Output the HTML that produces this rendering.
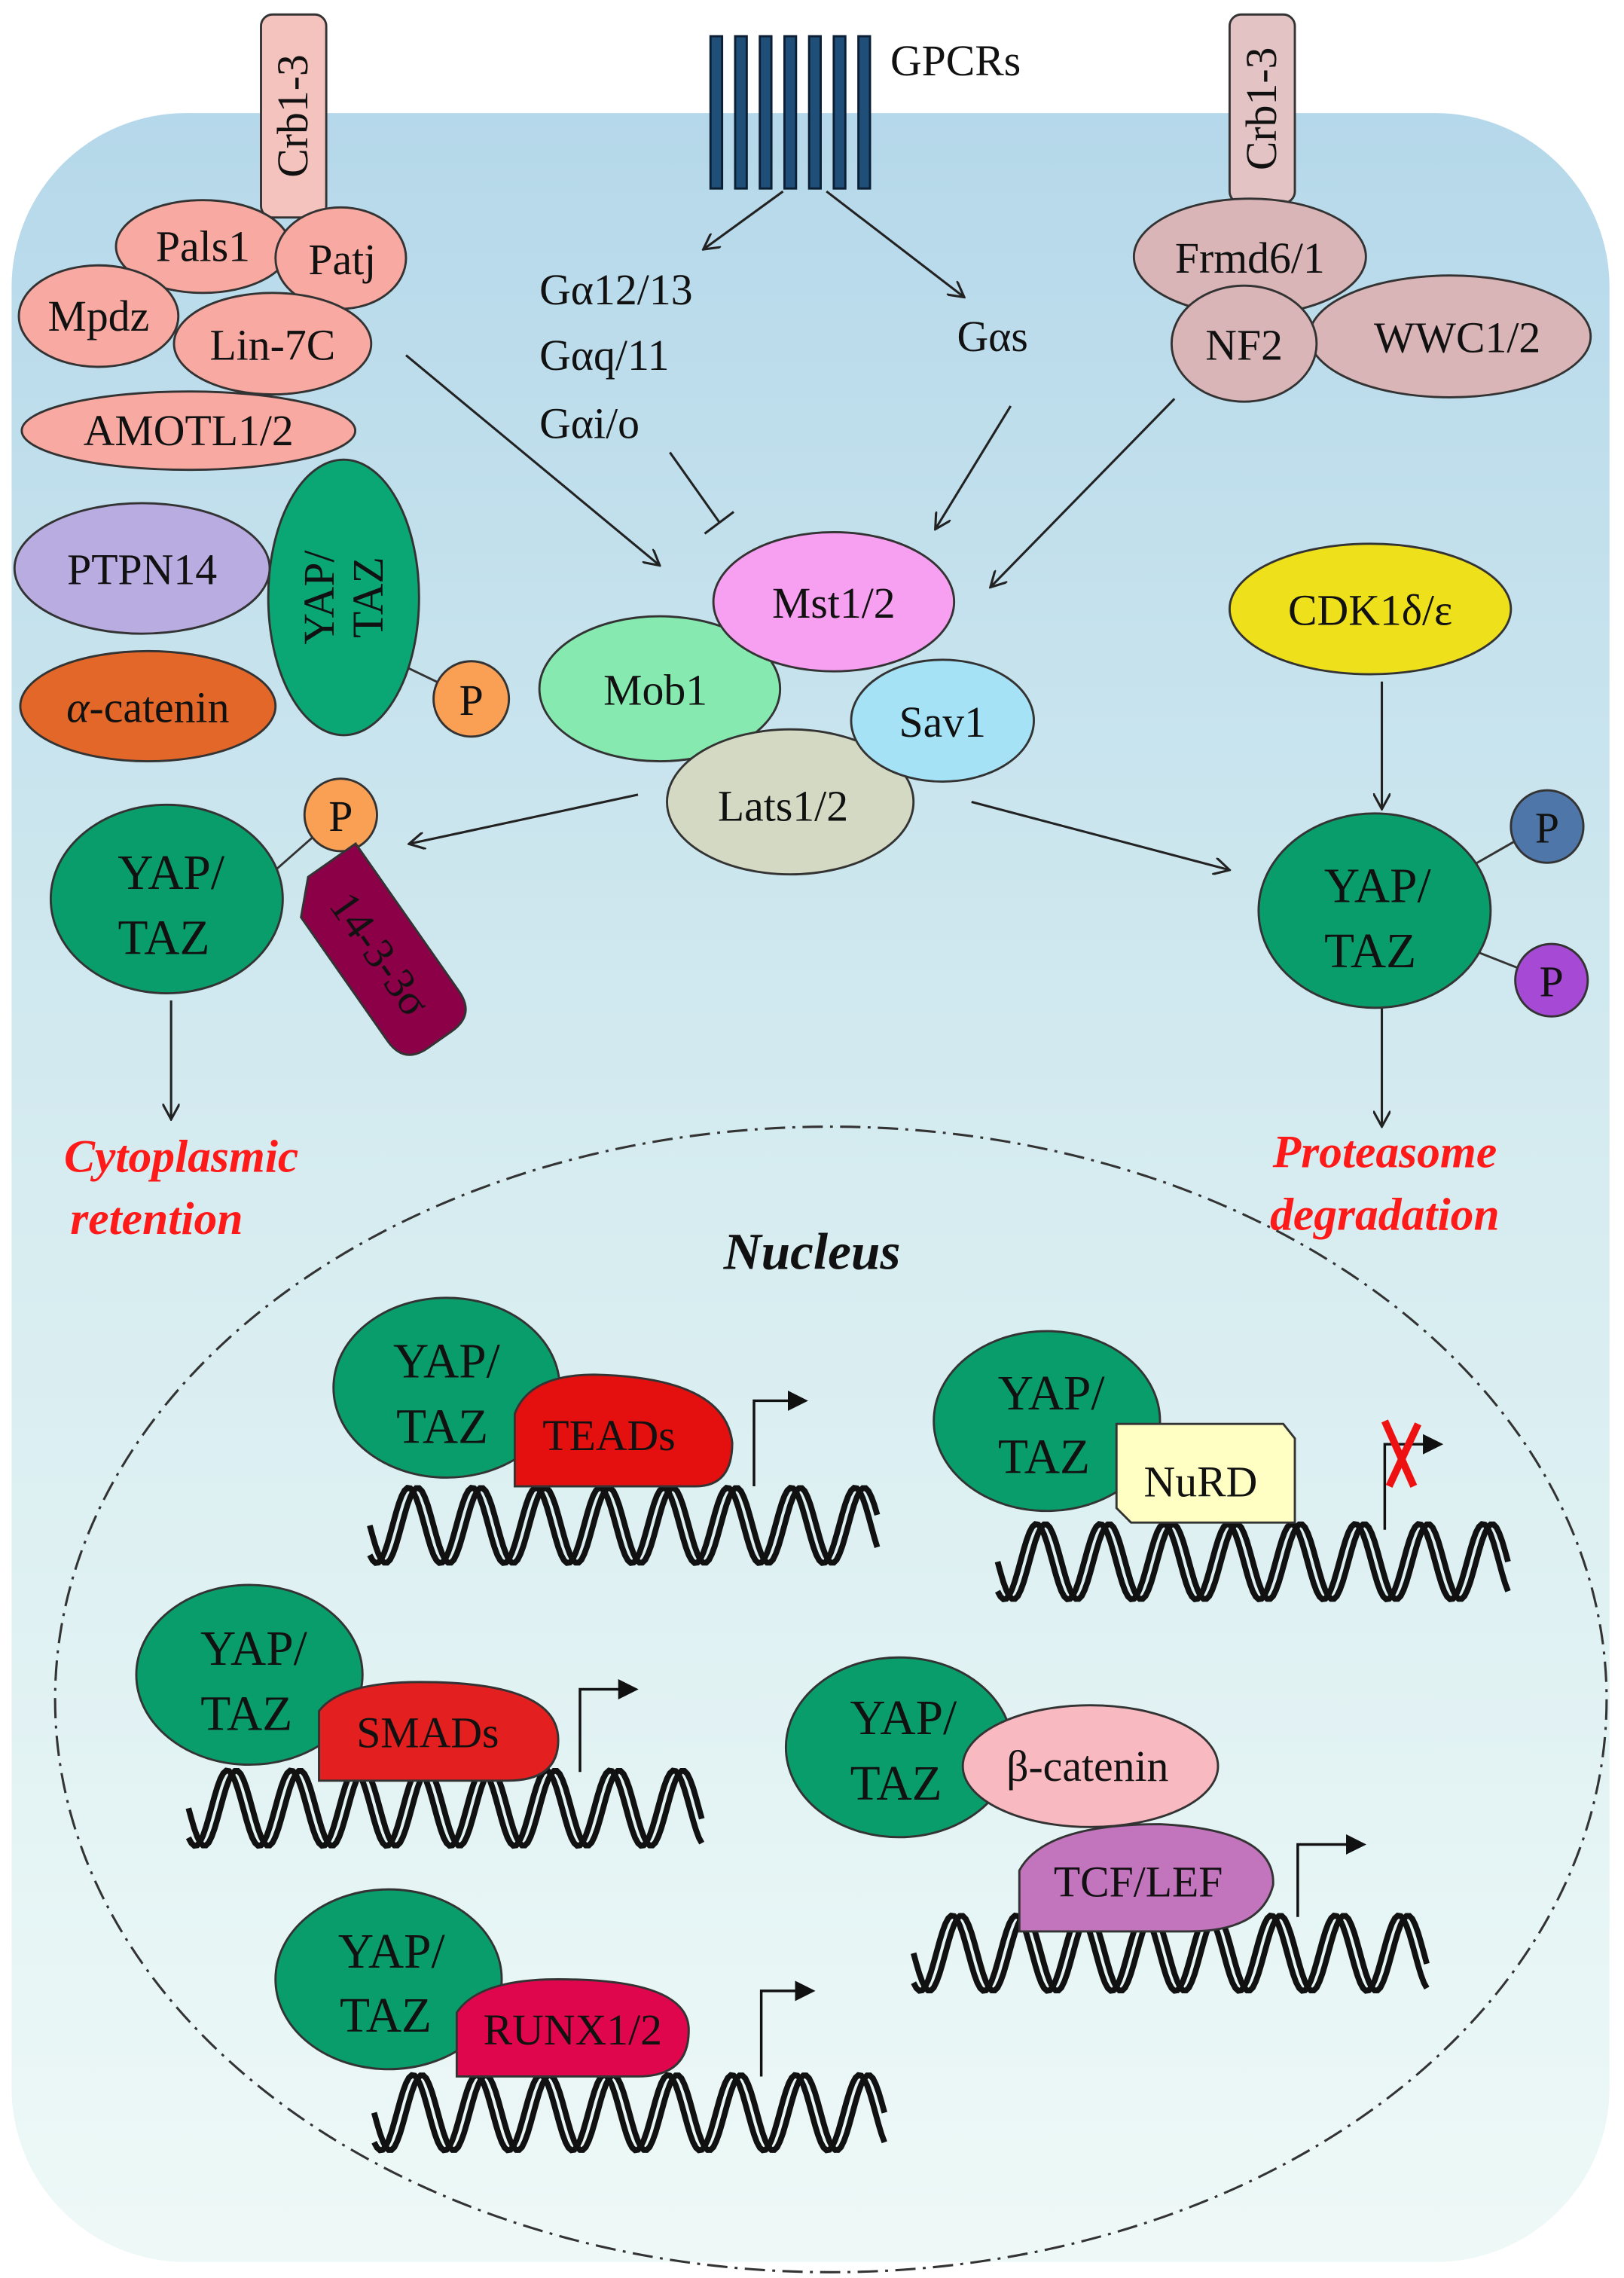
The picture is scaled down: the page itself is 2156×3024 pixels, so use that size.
<!DOCTYPE html>
<html><head><meta charset="utf-8">
<style>
html,body{margin:0;padding:0;background:#fff;}
svg{display:block;}
text{font-family:"Liberation Serif",serif;fill:#111;}
</style></head>
<body>
<svg id="s" width="2156" height="3024" viewBox="0 0 1120 1571" preserveAspectRatio="none" xmlns="http://www.w3.org/2000/svg">
<defs>
<linearGradient id="cell" x1="0" y1="0" x2="0" y2="1">
<stop offset="0" stop-color="#b5d8ea"/><stop offset="0.5" stop-color="#d6ecf0"/><stop offset="1" stop-color="#eef9f7"/>
</linearGradient>
<marker id="ar" viewBox="0 0 12 12" refX="11" refY="6" markerWidth="12" markerHeight="12" markerUnits="userSpaceOnUse" orient="auto">
<path d="M0,0 L11,6 L0,12" fill="none" stroke="#222" stroke-width="1.6"/></marker>
<marker id="af" viewBox="0 0 12 12" refX="10" refY="6" markerWidth="14" markerHeight="14" markerUnits="userSpaceOnUse" orient="auto">
<path d="M0,0 L12,6 L0,12 z" fill="#111"/></marker>
</defs>
<rect x="8" y="78" width="1102" height="1482" rx="120" fill="url(#cell)"/>

<g fill="#1f4e79" stroke="#0b1e33" stroke-width="1.5">
<rect x="490" y="25" width="8" height="105"/><rect x="507" y="25" width="8" height="105"/><rect x="524" y="25" width="8" height="105"/><rect x="541" y="25" width="8" height="105"/><rect x="558" y="25" width="8" height="105"/><rect x="575" y="25" width="8" height="105"/><rect x="592" y="25" width="8" height="105"/>
</g>
<text x="614" y="52" font-size="30">GPCRs</text>

<rect x="180" y="10" width="45" height="140" rx="8" fill="#f5c3be" stroke="#333" stroke-width="1.5"/>
<text transform="translate(212,80) rotate(-90)" text-anchor="middle" font-size="30">Crb1-3</text>
<g stroke="#333" stroke-width="1.5" fill="#f8aaa2">
<ellipse cx="140" cy="170" rx="60" ry="32"/>
<ellipse cx="235" cy="178" rx="45" ry="35"/>
<ellipse cx="68" cy="218" rx="55" ry="35"/>
<ellipse cx="188" cy="237" rx="68" ry="35"/>
<ellipse cx="130" cy="297" rx="115" ry="27"/>
</g>
<text x="140" y="180" font-size="30" text-anchor="middle">Pals1</text>
<text x="236" y="189" font-size="30" text-anchor="middle">Patj</text>
<text x="68" y="228" font-size="30" text-anchor="middle">Mpdz</text>
<text x="188" y="248" font-size="30" text-anchor="middle">Lin-7C</text>
<text x="130" y="307" font-size="30" text-anchor="middle">AMOTL1/2</text>
<ellipse cx="98" cy="392" rx="88" ry="45" fill="#b9ace0" stroke="#333" stroke-width="1.5"/>
<text x="98" y="403" font-size="30" text-anchor="middle">PTPN14</text>
<ellipse cx="102" cy="487" rx="88" ry="38" fill="#e4672a" stroke="#333" stroke-width="1.5"/>
<text x="102" y="498" font-size="30" text-anchor="middle"><tspan font-style="italic">α</tspan>-catenin</text>
<line x1="280" y1="460" x2="305" y2="472" stroke="#333" stroke-width="1.5"/>
<ellipse cx="237" cy="412" rx="52" ry="95" fill="#0aa673" stroke="#333" stroke-width="1.5"/>
<text transform="translate(230,412) rotate(-90)" text-anchor="middle" font-size="30"><tspan x="0" dy="0">YAP/</tspan><tspan x="0" dy="34">TAZ</tspan></text>
<circle cx="325" cy="482" r="26" fill="#f9a055" stroke="#333" stroke-width="1.5"/>
<text x="325" y="493" font-size="30" text-anchor="middle">P</text>

<rect x="848" y="10" width="45" height="130" rx="8" fill="#e3c3c3" stroke="#333" stroke-width="1.5"/>
<text transform="translate(880,75) rotate(-90)" text-anchor="middle" font-size="30">Crb1-3</text>
<g stroke="#333" stroke-width="1.5" fill="#d9b5b7">
<ellipse cx="1000" cy="232" rx="97" ry="42"/>
<ellipse cx="862" cy="177" rx="80" ry="40"/>
<ellipse cx="858" cy="237" rx="50" ry="40"/>
</g>
<text x="862" y="188" font-size="30" text-anchor="middle">Frmd6/1</text>
<text x="858" y="248" font-size="30" text-anchor="middle">NF2</text>
<text x="1005" y="243" font-size="30" text-anchor="middle">WWC1/2</text>

<text x="372" y="210" font-size="30">Gα12/13</text>
<text x="372" y="255" font-size="30">Gαq/11</text>
<text x="372" y="302" font-size="30">Gαi/o</text>
<text x="660" y="242" font-size="30">Gαs</text>

<g stroke="#222" stroke-width="1.6" fill="none">
<line x1="540" y1="132" x2="485" y2="172" marker-end="url(#ar)"/>
<line x1="570" y1="132" x2="665" y2="205" marker-end="url(#ar)"/>
<line x1="462" y1="312" x2="496" y2="360"/>
<line x1="486" y1="368" x2="506" y2="353"/>
<line x1="697" y1="280" x2="645" y2="365" marker-end="url(#ar)"/>
<line x1="810" y1="275" x2="683" y2="405" marker-end="url(#ar)"/>
<line x1="280" y1="245" x2="455" y2="390" marker-end="url(#ar)"/>
<line x1="440" y1="548" x2="282" y2="582" marker-end="url(#ar)"/>
<line x1="670" y1="553" x2="848" y2="600" marker-end="url(#ar)"/>
<line x1="953" y1="470" x2="953" y2="558" marker-end="url(#ar)"/>
<line x1="118" y1="690" x2="118" y2="772" marker-end="url(#ar)"/>
<line x1="953" y1="693" x2="953" y2="777" marker-end="url(#ar)"/>
</g>

<g stroke="#333" stroke-width="1.5">
<ellipse cx="455" cy="475" rx="83" ry="50" fill="#86eab0"/>
<ellipse cx="545" cy="553" rx="85" ry="50" fill="#d3d9c3"/>
<ellipse cx="650" cy="497" rx="63" ry="42" fill="#a5e2f5"/>
<ellipse cx="575" cy="415" rx="83" ry="48" fill="#f7a0f1"/>
</g>
<text x="575" y="426" font-size="30" text-anchor="middle">Mst1/2</text>
<text x="452" y="486" font-size="30" text-anchor="middle">Mob1</text>
<text x="650" y="508" font-size="30" text-anchor="middle">Sav1</text>
<text x="540" y="566" font-size="30" text-anchor="middle">Lats1/2</text>

<ellipse cx="945" cy="420" rx="97" ry="45" fill="#efe01c" stroke="#333" stroke-width="1.5"/>
<text x="945" y="431" font-size="30" text-anchor="middle">CDK1δ/ε</text>

<line x1="1010" y1="600" x2="1045" y2="580" stroke="#333" stroke-width="1.5"/>
<line x1="1015" y1="655" x2="1048" y2="668" stroke="#333" stroke-width="1.5"/>
<ellipse cx="948" cy="628" rx="80" ry="67" fill="#0a9d6c" stroke="#333" stroke-width="1.5"/>
<text x="950" y="622" font-size="34" text-anchor="middle">YAP/</text>
<text x="945" y="667" font-size="34" text-anchor="middle">TAZ</text>
<circle cx="1067" cy="570" r="25" fill="#4f76a8" stroke="#333" stroke-width="1.5"/>
<text x="1067" y="581" font-size="30" text-anchor="middle">P</text>
<circle cx="1070" cy="676" r="25" fill="#a64ad6" stroke="#333" stroke-width="1.5"/>
<text x="1070" y="687" font-size="30" text-anchor="middle">P</text>

<line x1="190" y1="600" x2="215" y2="578" stroke="#333" stroke-width="1.5"/>
<ellipse cx="115" cy="620" rx="80" ry="65" fill="#0a9d6c" stroke="#333" stroke-width="1.5"/>
<text x="118" y="613" font-size="34" text-anchor="middle">YAP/</text>
<text x="113" y="658" font-size="34" text-anchor="middle">TAZ</text>
<circle cx="235" cy="562" r="25" fill="#f9a055" stroke="#333" stroke-width="1.5"/>
<text x="235" y="573" font-size="30" text-anchor="middle">P</text>
<g transform="translate(262,658) rotate(55)">
<path d="M-72,-30 L52,-30 Q72,-30 72,-10 L72,10 Q72,30 52,30 L-52,30 L-72,10 z" fill="#8c0048" stroke="#333" stroke-width="1.5"/>
<text x="0" y="10" font-size="30" text-anchor="middle">14-3-3σ</text>
</g>

<g font-size="32" font-style="italic" font-weight="bold" text-anchor="middle">
<text x="125" y="808" style="fill:#ff1a1a">Cytoplasmic</text>
<text x="108" y="851" style="fill:#ff1a1a">retention</text>
<text x="955" y="805" style="fill:#ff1a1a">Proteasome</text>
<text x="955" y="848" style="fill:#ff1a1a">degradation</text>
</g>

<ellipse cx="573" cy="1172" rx="535" ry="395" fill="none" stroke="#333" stroke-width="1.6" stroke-dasharray="14,5,2,5"/>
<text x="560" y="875" font-size="36" font-style="italic" font-weight="bold" text-anchor="middle">Nucleus</text>

<g id="dna" stroke="#111" stroke-width="4" fill="none"></g>

<ellipse cx="308" cy="957" rx="78" ry="62" fill="#0a9d6c" stroke="#333" stroke-width="1.5"/>
<text x="308" y="950" font-size="34" text-anchor="middle">YAP/</text><text x="305" y="995" font-size="34" text-anchor="middle">TAZ</text>
<path d="M355,1025 L355,975 Q365,948 410,948 Q500,950 505,995 Q505,1025 480,1025 z" fill="#e3100f" stroke="#333" stroke-width="1.5"/>
<text x="420" y="1000" font-size="30" text-anchor="middle">TEADs</text>
<ellipse cx="722" cy="980" rx="78" ry="62" fill="#0a9d6c" stroke="#333" stroke-width="1.5"/>
<text x="725" y="972" font-size="34" text-anchor="middle">YAP/</text><text x="720" y="1016" font-size="34" text-anchor="middle">TAZ</text>
<path d="M770,1040 L770,982 L885,982 L893,992 L893,1050 L780,1050 z" fill="#ffffc4" stroke="#333" stroke-width="1.5"/>
<text x="828" y="1032" font-size="30" text-anchor="middle">NuRD</text>
<ellipse cx="172" cy="1155" rx="78" ry="62" fill="#0a9d6c" stroke="#333" stroke-width="1.5"/>
<text x="175" y="1148" font-size="34" text-anchor="middle">YAP/</text><text x="170" y="1193" font-size="34" text-anchor="middle">TAZ</text>
<path d="M220,1228 L220,1180 Q235,1160 290,1160 Q385,1160 385,1200 Q385,1228 350,1228 z" fill="#e3201f" stroke="#333" stroke-width="1.5"/>
<text x="295" y="1205" font-size="30" text-anchor="middle">SMADs</text>
<ellipse cx="620" cy="1205" rx="78" ry="62" fill="#0a9d6c" stroke="#333" stroke-width="1.5"/>
<text x="623" y="1196" font-size="34" text-anchor="middle">YAP/</text><text x="618" y="1241" font-size="34" text-anchor="middle">TAZ</text>
<ellipse cx="752" cy="1218" rx="88" ry="42" fill="#f9b9c0" stroke="#333" stroke-width="1.5"/>
<text x="750" y="1228" font-size="30" text-anchor="middle">β-catenin</text>
<path d="M703,1332 L703,1290 Q720,1258 800,1258 Q880,1262 878,1300 Q870,1332 820,1332 z" fill="#c274bd" stroke="#333" stroke-width="1.5"/>
<text x="785" y="1308" font-size="30" text-anchor="middle">TCF/LEF</text>
<ellipse cx="268" cy="1365" rx="78" ry="62" fill="#0a9d6c" stroke="#333" stroke-width="1.5"/>
<text x="270" y="1357" font-size="34" text-anchor="middle">YAP/</text><text x="266" y="1401" font-size="34" text-anchor="middle">TAZ</text>
<path d="M315,1432 L315,1388 Q330,1365 385,1365 Q475,1365 475,1400 Q475,1432 440,1432 z" fill="#e0064e" stroke="#333" stroke-width="1.5"/>
<text x="395" y="1410" font-size="30" text-anchor="middle">RUNX1/2</text>

<g stroke="#111" stroke-width="1.8" fill="none">
<path d="M520,1025 L520,966 L555,966" marker-end="url(#af)"/>
<path d="M955,1055 L955,996 L993,996" marker-end="url(#af)"/>
<path d="M400,1222 L400,1165 L438,1165" marker-end="url(#af)"/>
<path d="M895,1322 L895,1272 L940,1272" marker-end="url(#af)"/>
<path d="M525,1432 L525,1373 L560,1373" marker-end="url(#af)"/>
</g>
<g stroke="#ee1111" stroke-width="5">
<line x1="955" y1="980" x2="975" y2="1025"/><line x1="978" y1="982" x2="958" y2="1025"/>
</g>
</svg>
<script>
var g=document.getElementById('dna');
function dna(x0,x1,yc){
 var A=26,P=44;
 for(var ph=0;ph<2;ph++){
  var d='';
  for(var x=x0;x<=x1;x+=2){
   var y=yc+A*Math.sin((x-x0)/P*2*Math.PI+ph*0.9);
   d+=(x==x0?'M':'L')+x+','+y.toFixed(1);
  }
  var p=document.createElementNS('http://www.w3.org/2000/svg','path');
  p.setAttribute('d',d);g.appendChild(p);
 }
}
dna(255,605,1052);dna(688,1040,1077);dna(130,485,1247);dna(630,985,1347);dna(258,610,1457);
</script>
</body></html>
